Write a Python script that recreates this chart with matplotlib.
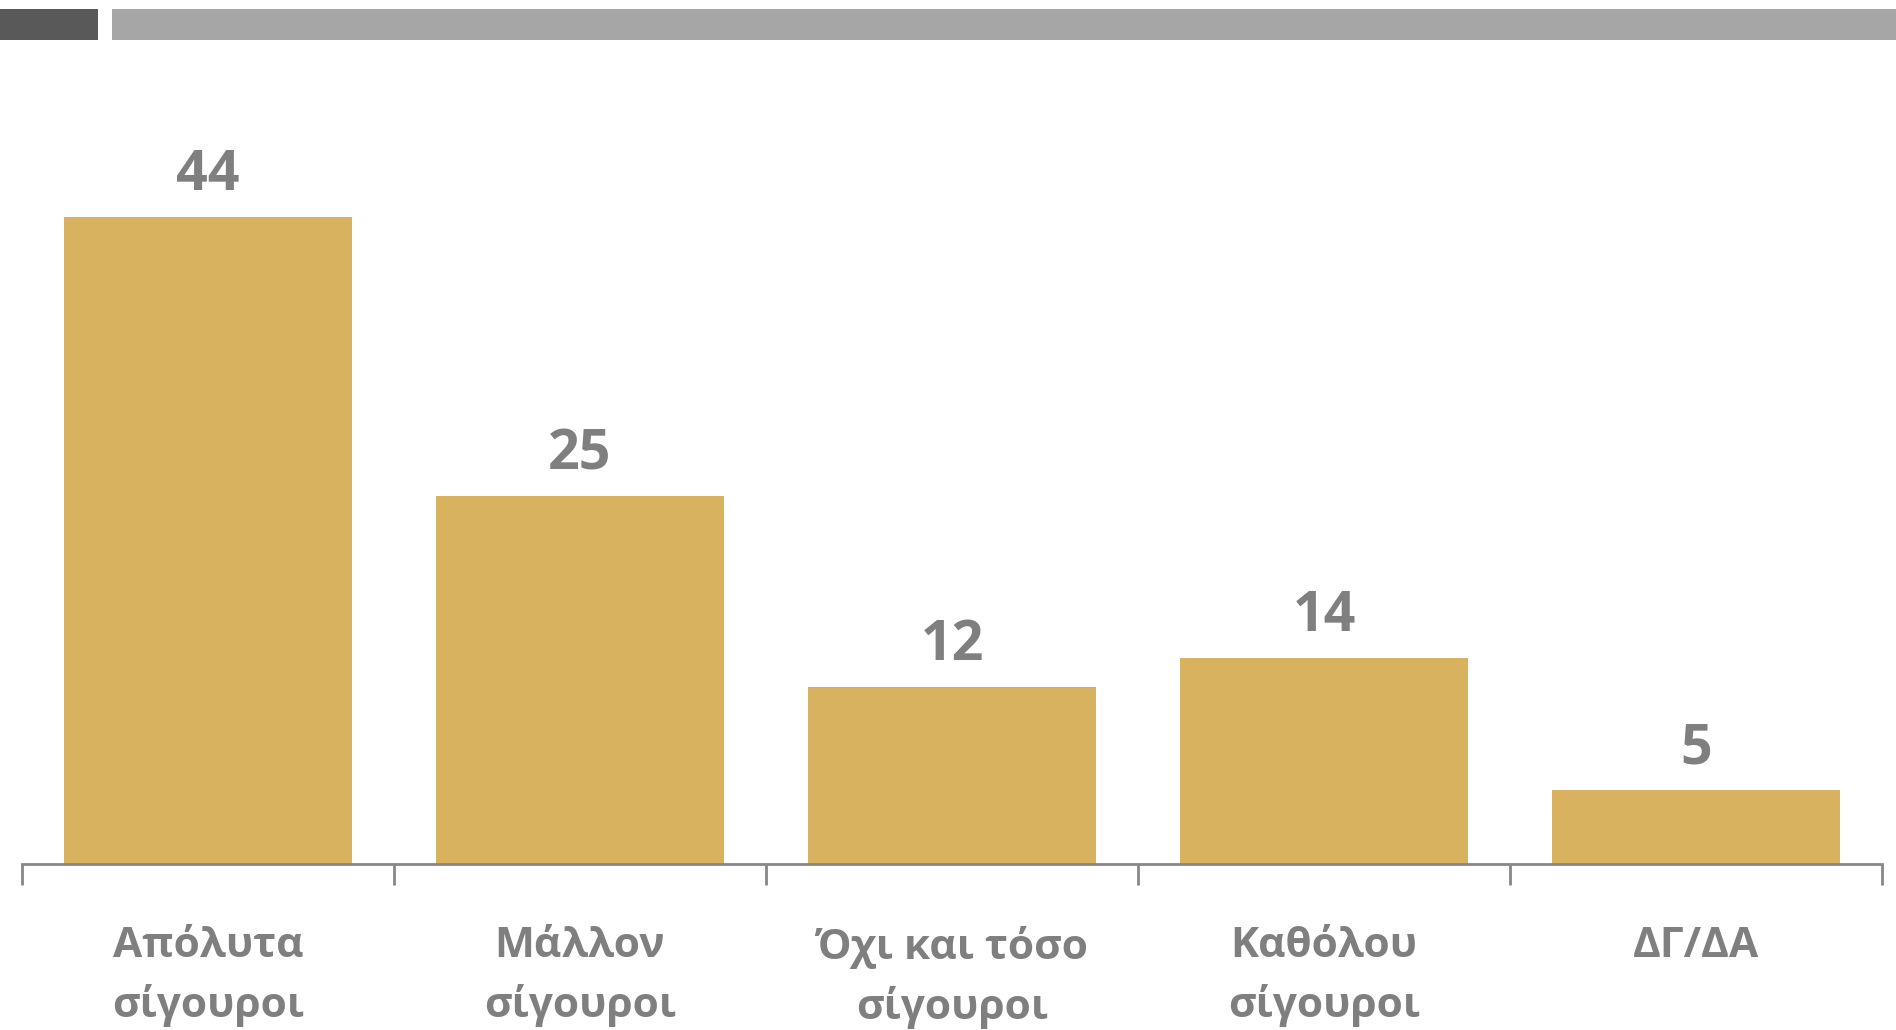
import matplotlib
matplotlib.use('Agg')
import matplotlib.pyplot as plt
from matplotlib.patches import Rectangle

# data
categories = ['Απόλυτα\nσίγουροι', 'Μάλλον\nσίγουροι', 'Όχι και τόσο\nσίγουροι',
              'Καθόλου\nσίγουροι', 'ΔΓ/ΔΑ']
values = [44, 25, 12, 14, 5]

bar_color = '#D8B25E'
text_color = '#7F7F7F'
axis_color = '#888888'

plt.rcParams['font.family'] = ['Open Sans', 'DejaVu Sans']

W, H = 1896, 1030
fig = plt.figure(figsize=(W / 100, H / 100), dpi=100)

# header strips
fig.patches.append(Rectangle((0, 1 - 40 / H), 98 / W, 31 / H, transform=fig.transFigure,
                             facecolor='#595959', edgecolor='none'))
fig.patches.append(Rectangle((112 / W, 1 - 40 / H), 1 - 112 / W, 31 / H, transform=fig.transFigure,
                             facecolor='#A6A6A6', edgecolor='none'))

ax = fig.add_axes([22 / W, (H - 863.5) / H, 1860 / W, (863.5 - 128.5) / H])
x = range(len(categories))
bars = ax.bar(x, values, width=0.774, color=bar_color, zorder=2)

ax.set_xlim(-0.5, len(categories) - 0.5)
ax.set_ylim(0, 50)

for s in ['top', 'right', 'left']:
    ax.spines[s].set_visible(False)
ax.spines['bottom'].set_color(axis_color)
ax.spines['bottom'].set_linewidth(2)
ax.set_yticks([])

ax.set_xticks(list(x))
ax.set_xticklabels(categories, fontsize=30.5, fontweight='bold', color=text_color,
                   linespacing=1.52, va='top')
ax.tick_params(axis='x', which='major', length=0, pad=45)
ax.set_xticks([i - 0.5 for i in range(len(categories) + 1)], minor=True)
ax.tick_params(axis='x', which='minor', length=15, width=2, color=axis_color, direction='out')

ax.bar_label(bars, labels=[str(v) for v in values], padding=10, fontsize=40,
             fontweight='bold', color=text_color)

fig.savefig('out.png', dpi=100)
